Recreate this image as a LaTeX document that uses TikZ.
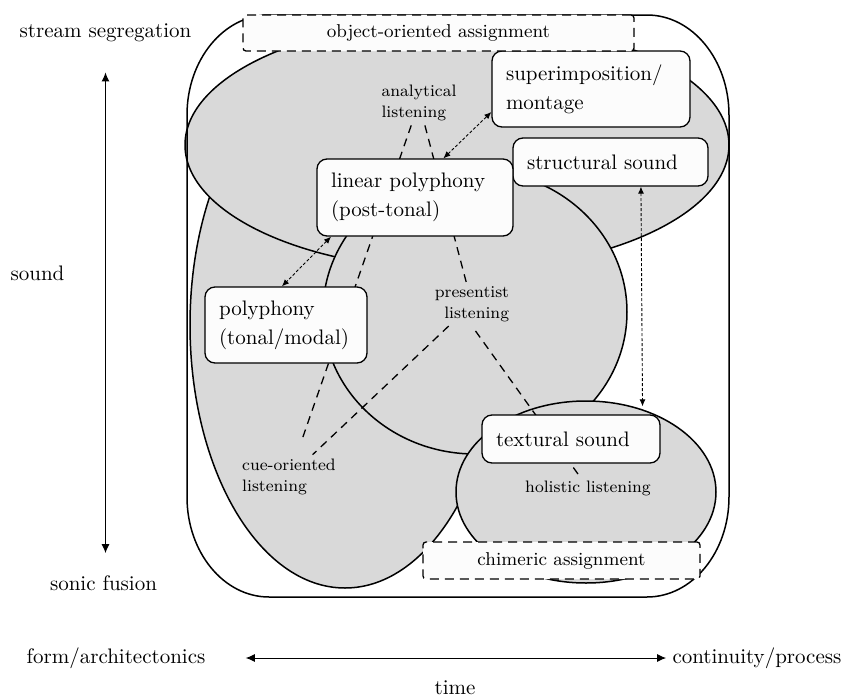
\documentclass[tikz,border=0pt]{standalone}
\usepackage{fontspec}
\usepackage{tikz}
\usetikzlibrary{arrows.meta}

\definecolor{regiongray}{gray}{0.85}
\definecolor{boxwhite}{gray}{0.99}

\tikzset{
    region/.style={fill=regiongray, draw=black, line width=0.75pt},
    soundbox/.style={draw=black, fill=boxwhite, line width=0.65pt, rounded corners=5pt,
        align=left, inner xsep=7pt, inner ysep=0pt, font=\fontsize{10.5}{14.5}\selectfont},
    assignbox/.style={draw=black, fill=boxwhite, line width=0.65pt,
        dash pattern=on 4.5pt off 3pt, rounded corners=1.5pt, inner sep=0pt,
        font=\fontsize{9.3}{11}\selectfont},
    mode/.style={inner sep=2pt, font=\fontsize{8.3}{10.5}\selectfont},
    axislabel/.style={inner sep=3pt, font=\fontsize{10.5}{12}\selectfont},
    modeline/.style={line width=0.65pt, dash pattern=on 4pt off 3pt},
    link/.style={{Latex[length=3.5pt,width=3pt]}-{Latex[length=3.5pt,width=3pt]},
        line width=0.45pt, dash pattern=on 1.5pt off 1pt},
    axis/.style={{Latex[length=4.5pt,width=4pt]}-{Latex[length=4.5pt,width=4pt]},
        line width=0.5pt},
}

\begin{document}
\begin{tikzpicture}[x=0.5pt, y=-0.5pt]
    \useasboundingbox (0,0) rectangle (848,697);

    % regions
    \filldraw[region] (345,325) ellipse [x radius=155, y radius=263];
    \filldraw[region] (457,145) ellipse [x radius=272, y radius=125];
    \filldraw[region] (475,312) ellipse [x radius=152, y radius=142];
    \filldraw[region] (586,492) ellipse [x radius=130, y radius=91];
    \draw[line width=0.75pt] (269,15) -- (647,15)
        arc[start angle=-90, end angle=0, x radius=82, y radius=100] -- (729,497)
        arc[start angle=0, end angle=90, x radius=82, y radius=100] -- (269,597)
        arc[start angle=90, end angle=180, x radius=82, y radius=100] -- (187,115)
        arc[start angle=180, end angle=270, x radius=82, y radius=100] -- cycle;

    % listening modes
    \node[mode, align=left] (analytical) at (419,103) {analytical\\listening};
    \node[mode, align=right] (presentist) at (472,304) {presentist\\listening};
    \node[mode, align=left] (cue) at (289,477) {cue-oriented\\listening};
    \node[mode] (holistic) at (588,488) {holistic listening};
    \draw[modeline, shorten >=9pt] (analytical) -- (cue);
    \draw[modeline] (analytical) -- (presentist);
    \draw[modeline] (presentist) -- (cue);
    \draw[modeline, shorten <=3pt] (presentist.south) -- (holistic);

    % sound types
    \node[soundbox, text width=85pt, minimum height=38pt] (super) at (591,89)
        {superimposition/\\montage};
    \node[soundbox, text width=83.5pt, minimum height=24pt] (struct) at (610.5,162)
        {structural sound};
    \node[soundbox, text width=84pt, minimum height=38.5pt] (linear) at (415,197.5)
        {linear polyphony\\(post-tonal)};
    \node[soundbox, text width=67pt, minimum height=38pt] (poly) at (286,325)
        {polyphony\\(tonal/modal)};
    \node[soundbox, text width=75pt, minimum height=24pt] (textural) at (571,439)
        {textural sound};
    \draw[link] (linear.54) -- (super.193);
    \draw[link] (linear.205) -- (poly.96);
    \draw[link, shorten >=4pt] (struct.-39) -- (textural.19);

    % assignments
    \node[assignbox, minimum width=195.5pt, minimum height=18pt] (object) at (438.5,33)
        {object-oriented assignment};
    \node[assignbox, minimum width=138.5pt, minimum height=18.5pt] (chimeric) at (561.5,560.5)
        {chimeric assignment};

    % axes
    \node[axislabel] (stream) at (105.5,33) {stream segregation};
    \node[axislabel] (sound) at (37.5,273) {sound};
    \node[axislabel] (sonic) at (103.5,583) {sonic fusion};
    \node[axislabel] (form) at (116,658) {form/architectonics};
    \node[axislabel] (process) at (757,658) {continuity/process};
    \node[axislabel] (time) at (455,688) {time};
    \draw[axis, shorten <=12pt, shorten >=8pt] (stream.south) -- (stream.south |- sonic.north);
    \draw[axis, shorten <=17pt] (form) -- (process);
\end{tikzpicture}
\end{document}
